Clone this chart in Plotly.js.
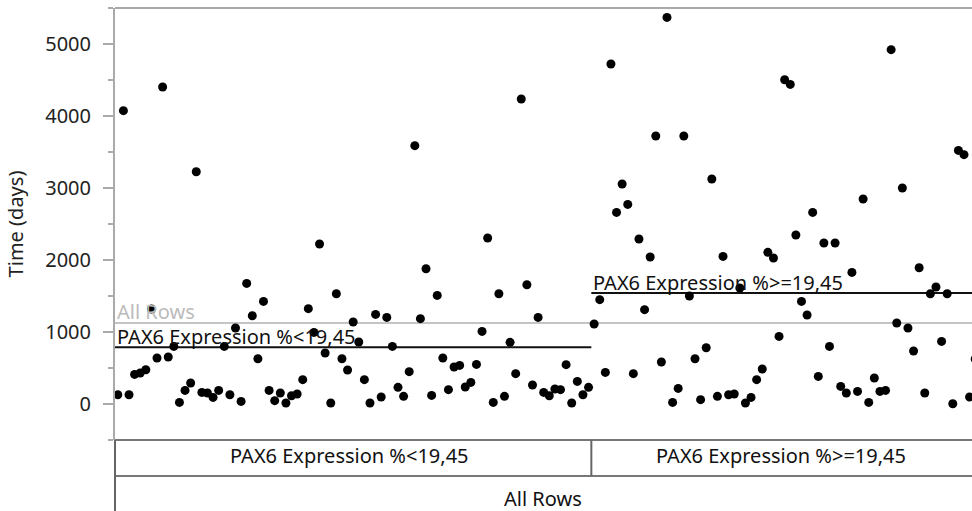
<!DOCTYPE html>
<html><head><meta charset="utf-8">
<script src="https://cdn.plot.ly/plotly-3.0.1.min.js"></script>
<style>html,body{margin:0;padding:0;overflow:hidden;background:#fff}#chart{width:978px;height:511px}</style>
</head><body><div id="chart"></div><script>
const groupNames = ["PAX6 Expression %<19,45", "PAX6 Expression %>=19,45"];
const allRowsLabel = "All Rows";
const yTitle = "Time (days)";
const yTickVals = [0, 1000, 2000, 3000, 4000, 5000];

// Time (days) per row, in plotted order within each partition
const lowTimes = [129,4074,129,411,431,476,1319,639,4403,653,
800,22,189,292,3226,161,153,92,189,800,
129,1056,36,1675,1226,629,1425,189,46,153,
14,115,139,338,1324,994,2222,708,14,1532,
629,472,1139,861,338,14,1244,97,1203,800,
231,106,449,3588,1185,1879,119,1508,639,199,
514,536,236,300,550,1008,2306,22,1532,106,
856,421,4236,1657,264,1203,161,115,208,199,
546,14,314,129,231];
const highTimes = [1111,1449,439,4722,2661,3056,2772,421,2292,1310,
2042,3722,583,5369,22,217,3722,1500,629,60,
782,3125,106,2050,129,139,1611,14,92,338,
486,2106,2028,939,4504,4439,2347,1425,1236,2661,
383,2236,800,2236,244,153,1828,175,2847,22,
361,175,189,4921,1125,3000,1056,736,1893,153,
1532,1625,869,1532,4,3522,3463,97,625];

const nLow = lowTimes.length, nHigh = highTimes.length, nAll = nLow + nHigh;
const mean = a => a.reduce((s, v) => s + v, 0) / a.length;
const lowMean = mean(lowTimes), highMean = mean(highTimes), allMean = mean(lowTimes.concat(highTimes));
const lowX = lowTimes.map((_, i) => i + 0.5);
const highX = highTimes.map((_, j) => nLow + j + 0.5);

const FONT = "Noto Sans, Open Sans, sans-serif";
const fs = 20;
const splitP = nLow / nAll;
const plotH = 432;
const boxBottom = -36 / plotH;
const pageBottom = -71 / plotH;

const trace = {
  type: "scatter", mode: "markers",
  x: lowX.concat(highX), y: lowTimes.concat(highTimes),
  marker: {color: "#000", size: 9},
  cliponaxis: true, hoverinfo: "y"
};

const shapes = [
  {type:"line", xref:"x", yref:"y", x0:0, x1:nAll, y0:allMean, y1:allMean, line:{color:"#c4c4c4", width:2}, layer:"below"},
  {type:"line", xref:"x", yref:"y", x0:0, x1:nLow, y0:lowMean, y1:lowMean, line:{color:"#111", width:2}, layer:"below"},
  {type:"line", xref:"x", yref:"y", x0:nLow, x1:nAll, y0:highMean, y1:highMean, line:{color:"#111", width:2}, layer:"below"},
  {type:"line", xref:"paper", yref:"paper", x0:0, x1:1, y0:1, y1:1, line:{color:"#aaa", width:2}},
  {type:"line", xref:"paper", yref:"paper", x0:0, x1:1, y0:0, y1:0, line:{color:"#777", width:2}},
  {type:"line", xref:"paper", yref:"paper", x0:0, x1:1, y0:boxBottom, y1:boxBottom, line:{color:"#777", width:2}},
  {type:"line", xref:"paper", yref:"paper", x0:splitP, x1:splitP, y0:0, y1:boxBottom, line:{color:"#666", width:2}},
  {type:"line", xref:"paper", yref:"paper", x0:0, x1:0, y0:0, y1:pageBottom, line:{color:"#666", width:2}}
];

const annotations = [
  {xref:"x", yref:"y", x:0, y:allMean, text:allRowsLabel, showarrow:false, xanchor:"left", yanchor:"bottom", yshift:-4, font:{family:FONT, size:fs, color:"#bbb"}},
  {xref:"x", yref:"y", x:0, y:lowMean, text:groupNames[0], showarrow:false, xanchor:"left", yanchor:"bottom", yshift:-5, font:{family:FONT, size:fs, color:"#111"}},
  {xref:"x", yref:"y", x:nLow, y:highMean, text:groupNames[1], showarrow:false, xanchor:"left", yanchor:"bottom", yshift:-5, font:{family:FONT, size:fs, color:"#111"}},
  {xref:"paper", yref:"paper", x:splitP/2, y:-15/plotH, text:groupNames[0], showarrow:false, xanchor:"center", yanchor:"middle", xshift:-4, font:{family:FONT, size:fs, color:"#111"}},
  {xref:"paper", yref:"paper", x:(1+splitP)/2, y:-15/plotH, text:groupNames[1], showarrow:false, xanchor:"center", yanchor:"middle", xshift:-4, font:{family:FONT, size:fs, color:"#111"}},
  {xref:"paper", yref:"paper", x:0.5, y:-58/plotH, text:allRowsLabel, showarrow:false, xanchor:"center", yanchor:"middle", xshift:-4, font:{family:FONT, size:fs, color:"#111"}}
];

const layout = {
  width: 978, height: 511,
  margin: {l:115, r:0, t:8, b:71, pad:0},
  paper_bgcolor: "#fff", plot_bgcolor: "#fff",
  showlegend: false,
  font: {family: FONT, size: fs, color: "#222"},
  xaxis: {range:[0, nAll], showgrid:false, zeroline:false, showline:false, showticklabels:false, ticks:"", fixedrange:true},
  yaxis: {
    range:[-500, 5500], tickmode:"array", tickvals:yTickVals, ticktext:yTickVals.map(String),
    showgrid:false, zeroline:false, showline:true, linecolor:"#aaa", linewidth:2,
    ticks:"outside", ticklen:10, tickwidth:1.5, tickcolor:"#aaa", ticklabelstandoff:8,
    minor:{tickmode:"array", tickvals:[-500,500,1500,2500,3500,4500,5500], ticks:"outside", ticklen:5, tickwidth:1.5, tickcolor:"#aaa", showgrid:false},
    tickfont:{family:FONT, size:fs, color:"#222"},
    title:{text:yTitle, font:{family:FONT, size:fs, color:"#222"}, standoff:16},
    fixedrange:true
  },
  shapes: shapes, annotations: annotations
};

Plotly.newPlot("chart", [trace], layout, {displayModeBar:false, staticPlot:true});
</script></body></html>
